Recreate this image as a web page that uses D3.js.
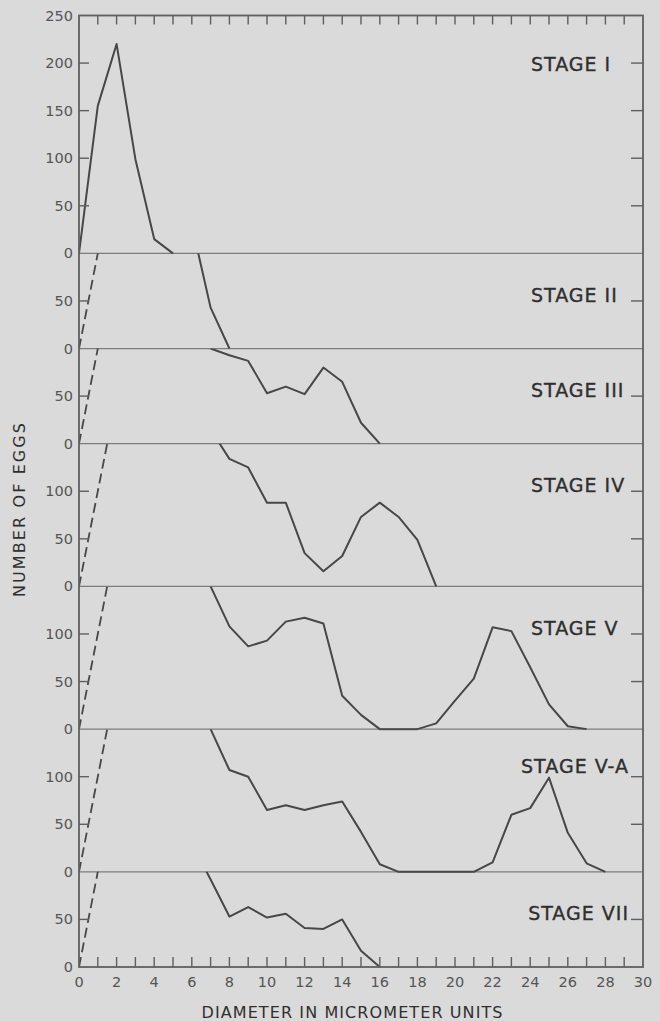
<!DOCTYPE html>
<html><head><meta charset="utf-8">
<script src="https://cdn.jsdelivr.net/npm/d3@7"></script>
<style>html,body{margin:0;padding:0;background:#dadada;} svg{display:block}</style>
</head><body>
<svg id="c" width="660" height="1021"></svg>
<script>
// ---- data ----
const stageNames = ["STAGE I","STAGE II","STAGE III","STAGE IV","STAGE V","STAGE V-A","STAGE VII"];
const panelMax   = [250, 100, 100, 150, 150, 150, 100];

const stageI_x   = [0, 1, 2, 3, 4, 5];
const stageI_y   = [0, 155, 220, 99, 15, 0];
const stageII_x  = [6, 7, 8];
const stageII_y  = [130, 43, 0];
const stageIII_x = [7, 8, 9, 10, 11, 12, 13, 14, 15, 16];
const stageIII_y = [100, 93, 87, 53, 60, 52, 80, 65, 22, 0];
const stageIV_x  = [7, 8, 9, 10, 11, 12, 13, 14, 15, 16, 17, 18, 19];
const stageIV_y  = [165, 134, 125, 88, 88, 35, 16, 32, 73, 88, 73, 49, 0];
const stageV_x   = [7, 8, 9, 10, 11, 12, 13, 14, 15, 16, 17, 18, 19, 20, 21, 22, 23, 24, 25, 26, 27];
const stageV_y   = [150, 108, 87, 93, 113, 117, 111, 35, 15, 0, 0, 0, 6, 30, 53, 107, 103, 65, 26, 3, 0];
const stageVA_x  = [7, 8, 9, 10, 11, 12, 13, 14, 15, 16, 17, 18, 19, 20, 21, 22, 23, 24, 25, 26, 27, 28];
const stageVA_y  = [150, 107, 100, 65, 70, 65, 70, 74, 42, 8, 0, 0, 0, 0, 0, 10, 60, 67, 99, 41, 9, 0];
const stageVII_x = [6, 7, 8, 9, 10, 11, 12, 13, 14, 15, 16];
const stageVII_y = [130, 92, 53, 63, 52, 56, 41, 40, 50, 17, 0];

// dashed extrapolation line (drawn in stages II..VII)
const guide_x = [0, 2];
const guide_y = [0, 200];

const xTickLabels = d3.range(0, 31, 2);
const xTitle = "DIAMETER IN MICROMETER UNITS";
const yTitle = "NUMBER OF EGGS";

const seriesX = [stageI_x, stageII_x, stageIII_x, stageIV_x, stageV_x, stageVA_x, stageVII_x];
const seriesY = [stageI_y, stageII_y, stageIII_y, stageIV_y, stageV_y, stageVA_y, stageVII_y];

(function () {
// ---- layout ----
const W = 660, H = 1021;
const pL = 79, pR = 643, pT = 15.5, pB = 967;
const ink = "#474747", frame = "#5f5f5f", textCol = "#2f2f2f", numCol = "#555555";

const svg = d3.select("#c");
svg.append("rect").attr("width", W).attr("height", H).attr("fill", "#dadada");

const x = d3.scaleLinear().domain([0, 30]).range([pL, pR]);
const pxPer = (pB - pT) / d3.sum(panelMax);
let cum = pT;
const panels = panelMax.map((m) => {
  const t = cum; cum += m * pxPer;
  return { max: m, top: t, base: cum, y: d3.scaleLinear().domain([0, m]).range([cum, t]) };
});

const defs = svg.append("defs");
panels.forEach((p, i) => {
  defs.append("clipPath").attr("id", "clip" + i)
    .append("rect").attr("x", pL).attr("y", p.top)
    .attr("width", pR - pL).attr("height", p.base - p.top + 1.5);
});

// panel separator lines
panels.slice(0, -1).forEach(p => {
  svg.append("line").attr("x1", pL).attr("x2", pR)
    .attr("y1", p.base).attr("y2", p.base)
    .attr("stroke", "#7d7d7d").attr("stroke-width", 1.3);
});

// curves
panels.forEach((p, i) => {
  const g = svg.append("g").attr("clip-path", `url(#clip${i})`);
  const line = d3.line().x(d => x(d[0])).y(d => p.y(d[1]));
  if (i > 0) {
    g.append("path").datum(d3.zip(guide_x, guide_y))
      .attr("d", line).attr("fill", "none").attr("stroke", ink)
      .attr("stroke-width", 1.8).attr("stroke-dasharray", "10,5");
  }
  g.append("path").datum(d3.zip(seriesX[i], seriesY[i]))
    .attr("d", line).attr("fill", "none").attr("stroke", ink)
    .attr("stroke-width", 2).attr("stroke-linejoin", "round");
});

// frame
svg.append("rect").attr("x", pL).attr("y", pT)
  .attr("width", pR - pL).attr("height", pB - pT)
  .attr("fill", "none").attr("stroke", frame).attr("stroke-width", 1.8);

// x ticks top (down) and bottom (up)
const xt = d3.range(1, 30);
svg.append("g").selectAll("line").data(xt).join("line")
  .attr("x1", d => x(d)).attr("x2", d => x(d))
  .attr("y1", pT).attr("y2", pT + 9)
  .attr("stroke", frame).attr("stroke-width", 1.4);
svg.append("g").selectAll("line").data(xt).join("line")
  .attr("x1", d => x(d)).attr("x2", d => x(d))
  .attr("y1", pB).attr("y2", pB - 10)
  .attr("stroke", frame).attr("stroke-width", 1.4);

// x tick labels
svg.append("g").selectAll("text").data(xTickLabels).join("text")
  .attr("x", d => x(d)).attr("y", 987)
  .attr("text-anchor", "middle")
  .attr("font-family", "DejaVu Sans").attr("font-size", 14.5)
  .attr("fill", numCol).text(d => d);

// y ticks & labels
panels.forEach((p, i) => {
  const vals = d3.range(0, p.max + (i === 0 ? 1 : 0), 50);
  vals.forEach(v => {
    const yy = p.y(v);
    if (v > 0 && v < p.max) {
      svg.append("line").attr("x1", pL).attr("x2", pL + 10)
        .attr("y1", yy).attr("y2", yy).attr("stroke", frame).attr("stroke-width", 1.4);
      svg.append("line").attr("x1", pR - 12).attr("x2", pR)
        .attr("y1", yy).attr("y2", yy).attr("stroke", frame).attr("stroke-width", 1.4);
    }
    svg.append("text").attr("x", 73).attr("y", yy)
      .attr("text-anchor", "end").attr("dominant-baseline", "central")
      .attr("font-family", "DejaVu Sans").attr("font-size", 14.5)
      .attr("fill", numCol).text(v);
  });
});

// stage labels (baseline placed at a level inside each panel)
const labelLevel = [192, 50, 50, 100, 100, 105, 50];
stageNames.forEach((name, i) => {
  const p = panels[i];
  const yy = p.y(labelLevel[i]) + (i === 0 ? 0 : 1);
  const t = svg.append("text").attr("x", 531).attr("y", yy)
    .attr("font-family", "DejaVu Sans").attr("font-size", 19)
    .attr("letter-spacing", 1).attr("fill", textCol)
    .attr("stroke", textCol).attr("stroke-width", 0.35).text(name);
  const w = t.node().getComputedTextLength();
  if (531 + w > 629) t.attr("x", 629 - w);
});

// axis titles
svg.append("text").attr("x", 352).attr("y", 1018)
  .attr("text-anchor", "middle")
  .attr("font-family", "DejaVu Sans").attr("font-size", 16)
  .attr("textLength", 301).attr("lengthAdjust", "spacing")
  .attr("fill", textCol).text(xTitle);
svg.append("text")
  .attr("transform", "translate(25,510) rotate(-90)")
  .attr("text-anchor", "middle")
  .attr("font-family", "DejaVu Sans").attr("font-size", 16)
  .attr("textLength", 174).attr("lengthAdjust", "spacing")
  .attr("fill", textCol).text(yTitle);
})();
</script>
</body></html>
